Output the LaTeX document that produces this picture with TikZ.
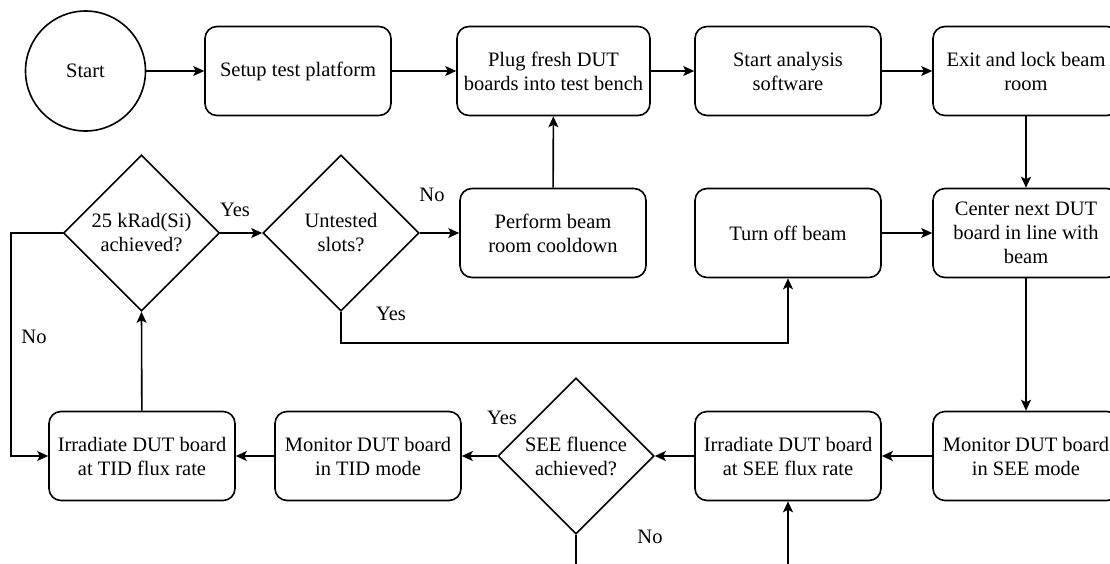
\documentclass[tikz,border=0pt]{standalone}
\usepackage{fontspec}
\setmainfont{Liberation Serif}
\usetikzlibrary{shapes.geometric,arrows.meta}

\tikzset{
  flow/.style={line width=1.6pt},
  arr/.style={flow,-{Stealth[length=11pt,width=10pt,inset=2.5pt]}},
  txt/.style={font=\fontsize{20.5}{24}\selectfont, align=center},
  stepbox/.style={txt, draw, line width=1.6pt, rounded corners=12pt,
    minimum width=186pt, minimum height=89pt, inner sep=0pt},
  decision/.style={txt, draw, line width=1.6pt, diamond, aspect=1,
    minimum width=156pt, minimum height=156pt, inner sep=0pt},
  startcircle/.style={txt, draw, line width=1.6pt, circle,
    minimum size=120pt, inner sep=0pt},
  lbl/.style={txt, inner sep=0pt}
}

\begin{document}
\begin{tikzpicture}[x=1pt, y=-1pt]
\clip (0,0) rectangle (1110,563);
\useasboundingbox (0,0) rectangle (1110,563);

% top row
\node[startcircle] (start) at (85.5,71) {Start};
\node[stepbox] (setup) at (298,71) {Setup test platform};
\node[stepbox, minimum width=193pt] (plug) at (553.5,71) {Plug fresh DUT\\boards into test bench};
\node[stepbox] (soft) at (788,71) {Start analysis\\software};
\node[stepbox] (lock) at (1026,71) {Exit and lock beam\\room};

% middle row
\node[decision] (dose) at (141.5,233) {25 kRad(Si)\\achieved?};
\node[decision] (slots) at (341,233) {Untested\\slots?};
\node[stepbox] (cool) at (553,233) {Perform beam\\room cooldown};
\node[stepbox] (off) at (788,233) {Turn off beam};
\node[stepbox] (center) at (1026,233) {Center next DUT\\board in line with\\beam};

% bottom row
\node[stepbox] (tidirr) at (142,456) {Irradiate DUT board\\at TID flux rate};
\node[stepbox] (tidmon) at (368,456) {Monitor DUT board\\in TID mode};
\node[decision] (fluence) at (576,456) {SEE fluence\\achieved?};
\node[stepbox] (seeirr) at (788,456) {Irradiate DUT board\\at SEE flux rate};
\node[stepbox] (seemon) at (1026,456) {Monitor DUT board\\in SEE mode};

% loose ends leaving the lower edge
\coordinate (fluenceout) at (576,575);
\coordinate (seein) at (788,575);
\coordinate (doseleft) at (11,233);

% connectors
\draw[arr] (start) -- (setup);
\draw[arr] (setup) -- (plug);
\draw[arr] (plug) -- (soft);
\draw[arr] (soft) -- (lock);
\draw[arr] (lock) -- (center);
\draw[arr] (center) -- (seemon);
\draw[arr] (seemon) -- (seeirr);
\draw[arr] (seeirr) -- (fluence.east);
\draw[arr] (fluence.west) -- (tidmon);
\draw[arr] (tidmon) -- (tidirr);
\draw[arr] (tidirr) -- (dose.south);
\draw[arr] (dose.west) -- (doseleft) |- (tidirr.west);
\draw[arr] (dose.east) -- (slots.west);
\draw[arr] (slots.east) -- (cool.west);
\draw[arr] (cool) -- (plug);
\draw[arr] (slots.south) -- ++(0,31) -| (off.south);
\draw[arr] (off) -- (center);
\draw[flow] (fluence.south) -- (fluenceout);
\draw[arr] (seein) -- (seeirr.south);

% branch labels
\node[lbl] (dosey) at (235,210) {Yes};
\node[lbl] (dosen) at (34,337) {No};
\node[lbl] (slotsn) at (432,195) {No};
\node[lbl] (slotsy) at (391,314) {Yes};
\node[lbl] (fluy) at (502,418) {Yes};
\node[lbl] (flun) at (650,537) {No};
\end{tikzpicture}
\end{document}
